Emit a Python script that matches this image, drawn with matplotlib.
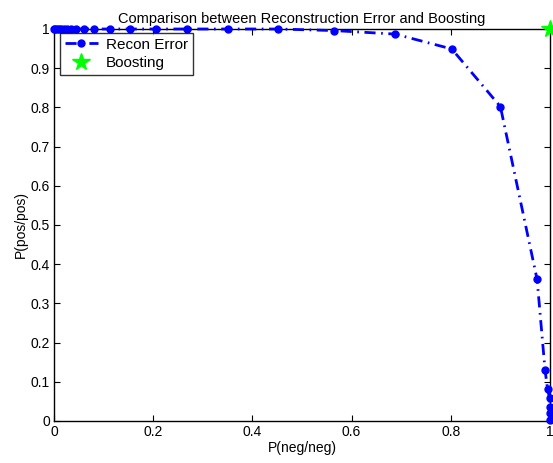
import matplotlib
matplotlib.use("Agg")
import matplotlib.pyplot as plt

plt.rcParams['font.family'] = ['Liberation Sans', 'DejaVu Sans']

recon_x = [0.0, 0.003, 0.006, 0.010, 0.015, 0.020, 0.027, 0.035, 0.045, 0.060, 0.080,
           0.113, 0.153, 0.206, 0.268, 0.351, 0.452, 0.565, 0.688, 0.802, 0.900,
           0.974, 0.990, 0.995, 0.999, 1.000, 1.000, 1.000]
recon_y = [1.0, 1.0, 1.0, 1.0, 1.0, 1.0, 1.0, 1.0, 1.0, 1.0, 1.0,
           1.0, 1.0, 1.0, 1.0, 1.0, 1.0, 0.996, 0.987, 0.949, 0.802,
           0.361, 0.130, 0.082, 0.059, 0.036, 0.021, 0.003]
boost_x = [1.0]
boost_y = [1.0]

xticks = [0, 0.2, 0.4, 0.6, 0.8, 1]
xticklabels = ['0', '0.2', '0.4', '0.6', '0.8', '1']
yticks = [0, 0.1, 0.2, 0.3, 0.4, 0.5, 0.6, 0.7, 0.8, 0.9, 1]
yticklabels = ['0', '0.1', '0.2', '0.3', '0.4', '0.5', '0.6', '0.7', '0.8', '0.9', '1']

fig = plt.figure(figsize=(5.53, 4.63), dpi=100)
ax = fig.add_axes([54/553, 42/463, 496/553, 392/463])

ax.plot(recon_x, recon_y, color='blue', linestyle=(0, (4, 2, 0.6, 2)), linewidth=2,
        marker='o', markersize=5, label='Recon Error', clip_on=False, zorder=3)
ax.plot(boost_x, boost_y, color='#00ff00', linestyle='none', marker='*',
        markersize=13, label='Boosting', clip_on=False, zorder=4)

ax.set_xlim(0, 1)
ax.set_ylim(0, 1)
ax.set_xticks(xticks)
ax.set_xticklabels(xticklabels)
ax.set_yticks(yticks)
ax.set_yticklabels(yticklabels)
ax.tick_params(direction='in', top=True, right=True, labelsize=10, length=4, pad=3)
for s in ax.spines.values():
    s.set_linewidth(1.0)

ax.set_xlabel('P(neg/neg)', fontsize=10, labelpad=1)
ax.set_ylabel('P(pos/pos)', fontsize=10, labelpad=2)
ax.set_title('Comparison between Reconstruction Error and Boosting', fontsize=10.5, pad=4)

leg = ax.legend(loc='upper left', bbox_to_anchor=(6/496, 1 - 4/392), frameon=True,
                fancybox=False, edgecolor='black', fontsize=11, borderpad=0.3,
                labelspacing=0.3, handlelength=2.2, handletextpad=0.5, borderaxespad=0)
leg.get_frame().set_linewidth(1.0)

fig.savefig('out.png', dpi=100)
